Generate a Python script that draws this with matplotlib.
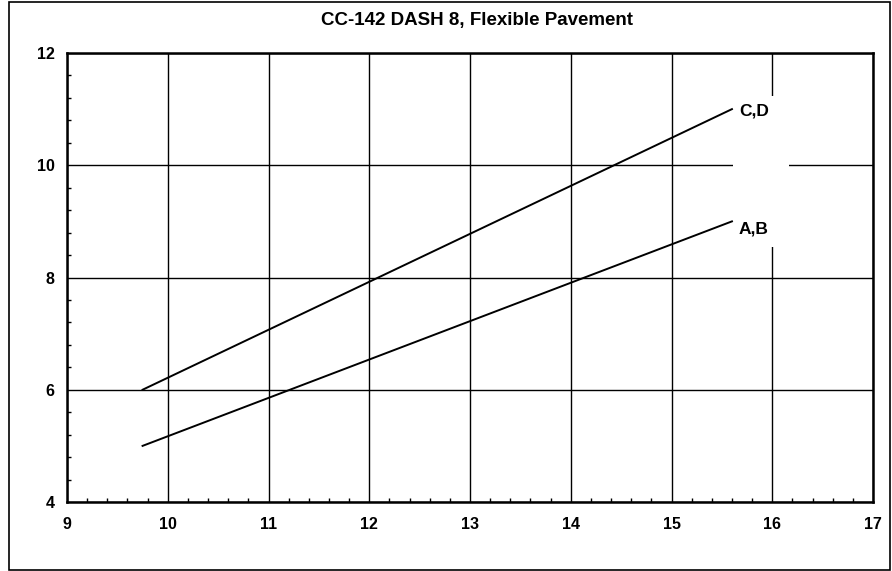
import matplotlib.pyplot as plt
from matplotlib.patches import Rectangle
from matplotlib.ticker import MultipleLocator

# Data
# ------------------------------------------------------------------------------

x_cd = [9.75, 15.6]
y_cd = [6.0, 11.0]
x_ab = [9.75, 15.6]
y_ab = [5.0, 9.0]
labels = ['C,D', 'A,B']
title = 'CC-142 DASH 8, Flexible Pavement'

# Plot
# ------------------------------------------------------------------------------

plt.rcParams['font.family'] = ['Liberation Sans', 'DejaVu Sans']
plt.rcParams['font.weight'] = 'bold'

W, H = 892, 571
fig = plt.figure(figsize=(W / 100, H / 100), dpi=100)
ax = fig.add_axes([67 / W, 1 - 502 / H, (873 - 67) / W, (502 - 53) / H])

# figure border
fig.patches.append(Rectangle((8.5 / W, 1.5 / H), (890 - 8.5) / W, (569.5 - 1.5) / H,
                             transform=fig.transFigure, fill=False,
                             edgecolor='black', linewidth=1.2))

ax.plot(x_cd, y_cd, color='black', lw=1.4, zorder=3)
ax.plot(x_ab, y_ab, color='black', lw=1.4, zorder=3)

# white label area covering the grid
ax.add_patch(Rectangle((15.61, 8.54), 0.56, 2.69, facecolor='white',
                       edgecolor='none', zorder=2))
ax.text(x_cd[-1] + 0.07, y_cd[-1] - 0.04, labels[0], fontsize=12.5,
        fontweight='bold', ha='left', va='center', zorder=4)
ax.text(x_ab[-1] + 0.07, y_ab[-1] - 0.13, labels[1], fontsize=12.5,
        fontweight='bold', ha='left', va='center', zorder=4)

ax.set_xlim(9, 17)
ax.set_ylim(4, 12)
ax.xaxis.set_major_locator(MultipleLocator(1))
ax.xaxis.set_minor_locator(MultipleLocator(0.2))
ax.yaxis.set_major_locator(MultipleLocator(2))
ax.yaxis.set_minor_locator(MultipleLocator(0.4))
ax.grid(True, which='major', color='black', lw=1.0, zorder=1)
ax.set_axisbelow(True)
ax.tick_params(which='major', length=0, labelsize=11.5, pad=11)
ax.tick_params(axis='y', which='major', pad=9)
ax.tick_params(which='minor', direction='in', length=3, width=1, color='black')
for s in ax.spines.values():
    s.set_linewidth(1.8)
    s.set_zorder(5)

fig.text(477 / W, 1 - 20 / H, title, fontsize=13.5, fontweight='bold',
         ha='center', va='center')

plt.savefig('out.png', dpi=100)
